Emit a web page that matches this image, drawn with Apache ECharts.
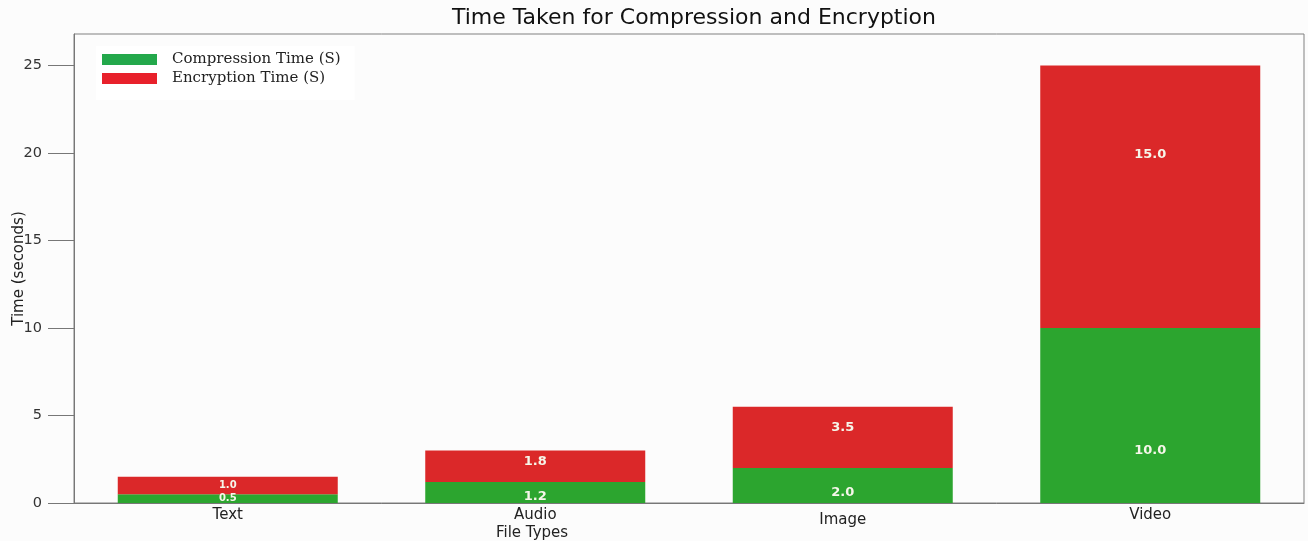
<!DOCTYPE html>
<html>
<head>
<meta charset="utf-8">
<title>Time Taken for Compression and Encryption</title>
<script src="https://cdn.jsdelivr.net/npm/echarts@6/dist/echarts.min.js"></script>
<style>
  html, body { margin: 0; padding: 0; background: #fcfcfc; }
  #chart { width: 1308px; height: 541px; }
</style>
</head>
<body>
<div id="chart"></div>
<script>
// Chart data
const fileTypes = ['Text', 'Audio', 'Image', 'Video'];
const compressionTime = [0.5, 1.2, 2.0, 10.0];
const encryptionTime = [1.0, 1.8, 3.5, 15.0];
const yTicks = [0, 5, 10, 15, 20, 25];

const FONT = '"DejaVu Sans", "Liberation Sans", Arial, sans-serif';
const SERIF = '"DejaVu Serif", "Liberation Serif", serif';
const GREEN = '#2ca52f';
const RED = '#db2829';

// Value labels: the narrow Text bar gets smaller, centred labels
function segmentData(values) {
  return values.map((v, i) => {
    const item = { value: v };
    if (fileTypes[i] === 'Text') {
      item.label = { fontSize: 10, position: 'inside' };
    }
    return item;
  });
}

const labelBase = {
  show: true,
  color: '#f6f6ea',
  fontFamily: FONT,
  fontWeight: 'bold',
  fontSize: 13,
  align: 'center',
  verticalAlign: 'middle',
  formatter: p => p.value.toFixed(1)
};

const chart = echarts.init(document.getElementById('chart'), null, { renderer: 'canvas' });

chart.setOption({
  backgroundColor: '#fcfcfc',
  animation: false,
  title: {
    text: 'Time Taken for Compression and Encryption',
    left: 689,
    textAlign: 'center',
    top: 2,
    textStyle: { fontFamily: FONT, fontSize: 22, fontWeight: 'normal', color: '#111' }
  },
  legend: {
    orient: 'vertical',
    left: 96,
    top: 46,
    padding: [6, 14, 14, 6],
    backgroundColor: '#ffffff',
    icon: 'rect',
    itemWidth: 55,
    itemHeight: 11,
    itemGap: 4,
    data: [
      { name: 'Compression Time (S)', itemStyle: { color: '#23a84b' } },
      { name: 'Encryption Time (S)', itemStyle: { color: '#e8212b' } }
    ],
    textStyle: {
      fontFamily: SERIF,
      fontSize: 15,
      color: '#222',
      padding: [0, 0, 0, 10]
    }
  },
  grid: {
    left: 74,
    right: 4,
    top: 34,
    bottom: 38,
    outerBoundsMode: 'none',
    containLabel: false,
    show: true,
    borderColor: '#808080',
    borderWidth: 1,
    backgroundColor: 'transparent'
  },
  xAxis: {
    type: 'category',
    data: fileTypes.map(t => t === 'Image'
      ? { value: t, textStyle: { padding: [5, 0, 0, 0] } }
      : t),
    name: 'File Types',
    nameLocation: 'middle',
    nameGap: 23,
    nameMoveOverlap: false,
    nameTextStyle: { fontFamily: FONT, fontSize: 15, color: '#222', padding: [0, 314, 0, 0] },
    axisLine: { lineStyle: { color: '#777', width: 1 } },
    axisTick: { show: false },
    axisLabel: { fontFamily: FONT, fontSize: 15, color: '#222', margin: 5 }
  },
  yAxis: {
    type: 'value',
    min: 0,
    max: 26.8,
    interval: 5,
    name: 'Time (seconds)',
    nameLocation: 'middle',
    nameGap: 47,
    nameMoveOverlap: false,
    nameTextStyle: { fontFamily: FONT, fontSize: 15, color: '#222' },
    axisLine: { show: true, lineStyle: { color: '#777', width: 1 } },
    axisTick: { show: true, length: 26, lineStyle: { color: '#777' }, customValues: yTicks },
    axisLabel: { fontFamily: FONT, fontSize: 14.5, color: '#333', margin: 32, customValues: yTicks },
    splitLine: { show: false }
  },
  series: [
    {
      name: 'Compression Time (S)',
      type: 'bar',
      stack: 'time',
      barWidth: 220,
      itemStyle: { color: GREEN },
      label: Object.assign({}, labelBase, { position: ['50%', '70%'] }),
      data: segmentData(compressionTime)
    },
    {
      name: 'Encryption Time (S)',
      type: 'bar',
      stack: 'time',
      barWidth: 220,
      itemStyle: { color: RED },
      label: Object.assign({}, labelBase, { position: ['50%', '34%'] }),
      data: segmentData(encryptionTime)
    }
  ]
});
</script>
</body>
</html>
